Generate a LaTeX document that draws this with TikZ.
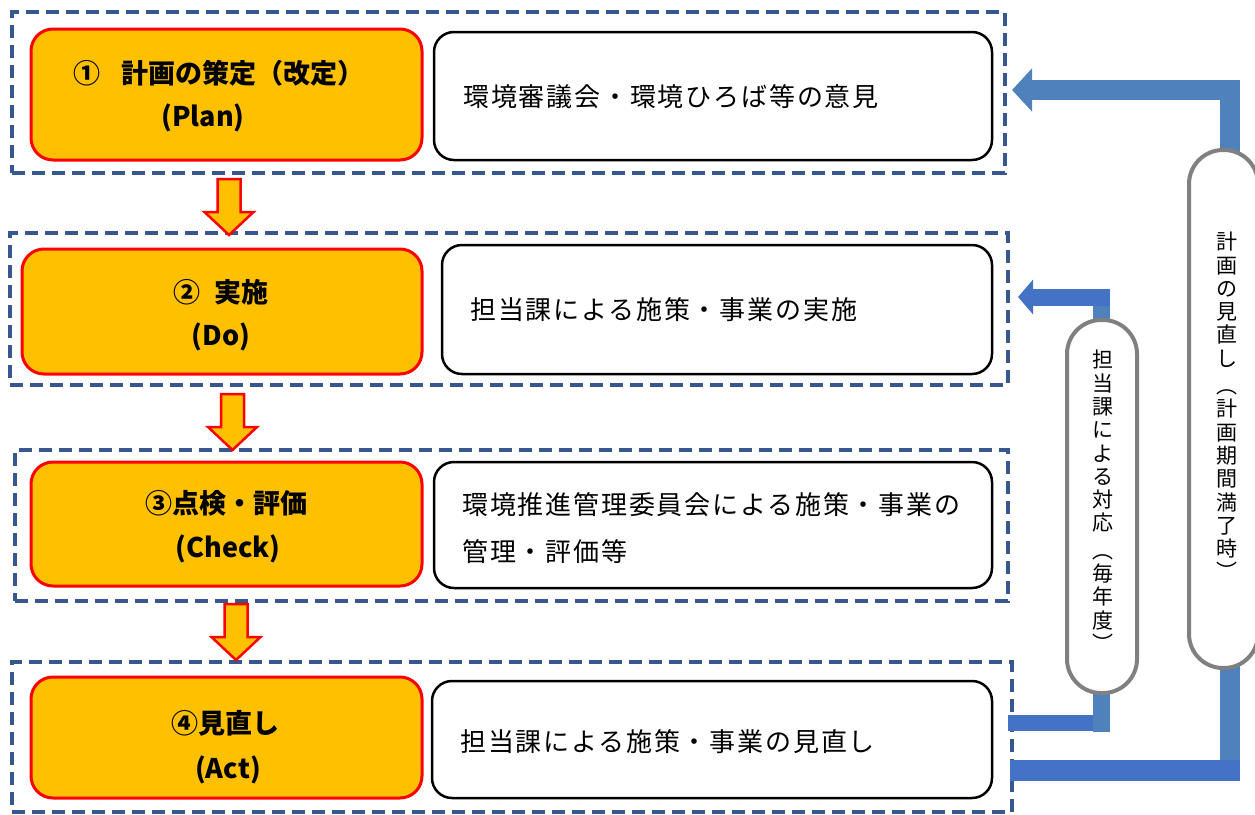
\documentclass[tikz,border=0pt]{standalone}
\usepackage{fontspec}
\setmainfont{Noto Sans CJK JP}
\newfontfamily\wfont{Noto Sans CJK JP}[LetterSpace=7]
\usetikzlibrary{arrows.meta}
\definecolor{dashblue}{RGB}{54,88,142}
\definecolor{ofill}{RGB}{255,192,0}
\definecolor{bblue}{RGB}{79,129,189}
\definecolor{cblue}{RGB}{68,114,196}
\definecolor{pgray}{RGB}{128,128,128}
\tikzset{
  dbox/.style={draw=dashblue, line width=4pt, dash pattern=on 13pt off 7pt, inner sep=0pt, outer sep=0pt},
  obox/.style={draw=red, fill=ofill, line width=3pt, rounded corners=22pt, inner sep=0pt, outer sep=0pt},
  wbox/.style={draw=black, fill=white, line width=2.5pt, rounded corners=20pt, inner sep=0pt, outer sep=0pt},
  pill/.style={draw=pgray, fill=white, line width=4pt, rounded corners=34pt, inner sep=0pt, outer sep=0pt},
  otext/.style={inner sep=0pt, font=\bfseries\fontsize{27}{31}\selectfont},
  wtext/.style={inner sep=0pt, anchor=west, align=left, font=\wfont\fontsize{26}{47}\selectfont},
  vtext/.style={inner sep=0pt, align=center, font=\fontsize{21}{23.3}\selectfont},
  downarr/.pic={\draw[red, line width=2.5pt, fill=ofill, line join=miter]
     (-11.5,0) -- (11.5,0) -- (11.5,33) -- (24.5,33) -- (0,56) -- (-24.5,33) -- (-11.5,33) -- cycle;}
}
\begin{document}
\begin{tikzpicture}[x=1pt,y=-1pt]
\useasboundingbox (0,0) rectangle (1255,814);
% dashed frames
\node[dbox, minimum width=993, minimum height=161] (d1) at (508.5,92.5) {};
\node[dbox, minimum width=998, minimum height=152] (d2) at (509,309) {};
\node[dbox, minimum width=993, minimum height=151] (d3) at (511.5,525.5) {};
\node[dbox, minimum width=1000, minimum height=150] (d4) at (512,737) {};
% orange boxes
\node[obox, minimum width=391, minimum height=131] (o1) at (226.5,94.5) {};
\node[obox, minimum width=400, minimum height=125] (o2) at (222,311.5) {};
\node[obox, minimum width=391, minimum height=124] (o3) at (226.5,524) {};
\node[obox, minimum width=391, minimum height=121] (o4) at (226.5,737.5) {};
\node[otext] (o1a) at (219,73) {①\hspace{22pt}計画の策定（改定）};
\node[otext] (o1b) at (203,118) {(Plan)};
\node[otext] (o2a) at (221,292) {②\hspace{14pt}実施};
\node[otext] (o2b) at (221,337) {(Do)};
\node[otext] (o3a) at (226,503) {③点検・評価};
\node[otext] (o3b) at (228,549) {(Check)};
\node[otext] (o4a) at (225,723) {④見直し};
\node[otext] (o4b) at (228,770) {(Act)};
% white boxes
\node[wbox, minimum width=558, minimum height=128] (w1) at (713,96) {};
\node[wbox, minimum width=550, minimum height=129] (w2) at (717,309.5) {};
\node[wbox, minimum width=558, minimum height=126] (w3) at (713,525) {};
\node[wbox, minimum width=560, minimum height=117] (w4) at (712,739.5) {};
\node[wtext] (w1t) at (463,97) {環境審議会・環境ひろば等の意見};
\node[wtext] (w2t) at (470,310) {担当課による施策・事業の実施};
\node[wtext] (w3t) at (462,528.5) {環境推進管理委員会による施策・事業の\\管理・評価等};
\node[wtext] (w4t) at (460,742) {担当課による施策・事業の見直し};
% down arrows
\pic at (229,179) {downarr};
\pic at (232.5,394) {downarr};
\pic at (236,604) {downarr};
% feedback connectors
\coordinate (bigBot) at (1230,760);
\coordinate (bigCorner) at (1230,90);
\coordinate (bigTip) at (1012,90);
\coordinate (bigL) at (1010,770);
\coordinate (bigR) at (1240,770);
\draw[bblue, line width=20pt, line join=miter, -{Triangle[length=20pt,width=42pt]}] (bigBot) -- (bigCorner) -- (bigTip);
\draw[cblue, line width=21pt] (bigL) -- (bigR);
\coordinate (smBot) at (1101,732);
\coordinate (smTop) at (1101,289);
\coordinate (smL) at (1008,723);
\coordinate (smR) at (1092.5,723);
\coordinate (smCorner) at (1109.5,297);
\coordinate (smTip) at (1018,297);
\draw[bblue, line width=17pt] (smBot) -- (smTop);
\draw[cblue, line width=16pt] (smL) -- (smR);
\draw[cblue, line width=17pt, -{Triangle[length=15pt,width=34pt]}] (smCorner) -- (smTip);
% pills
\node[pill, minimum width=70, minimum height=373] (p1) at (1102,506.5) {};
\node[pill, minimum width=69, minimum height=518] (p2) at (1223.5,409) {};
\node[vtext, anchor=north] (p1t) at (1103,350) {担\\当\\課\\に\\よ\\る\\対\\応\\[4pt]︵\\毎\\年\\度\\︶};
\node[vtext, anchor=north] (p2t) at (1227,232) {計\\画\\の\\見\\直\\し\\[4pt]︵\\計\\画\\期\\間\\満\\了\\時\\︶};
\end{tikzpicture}
\end{document}
